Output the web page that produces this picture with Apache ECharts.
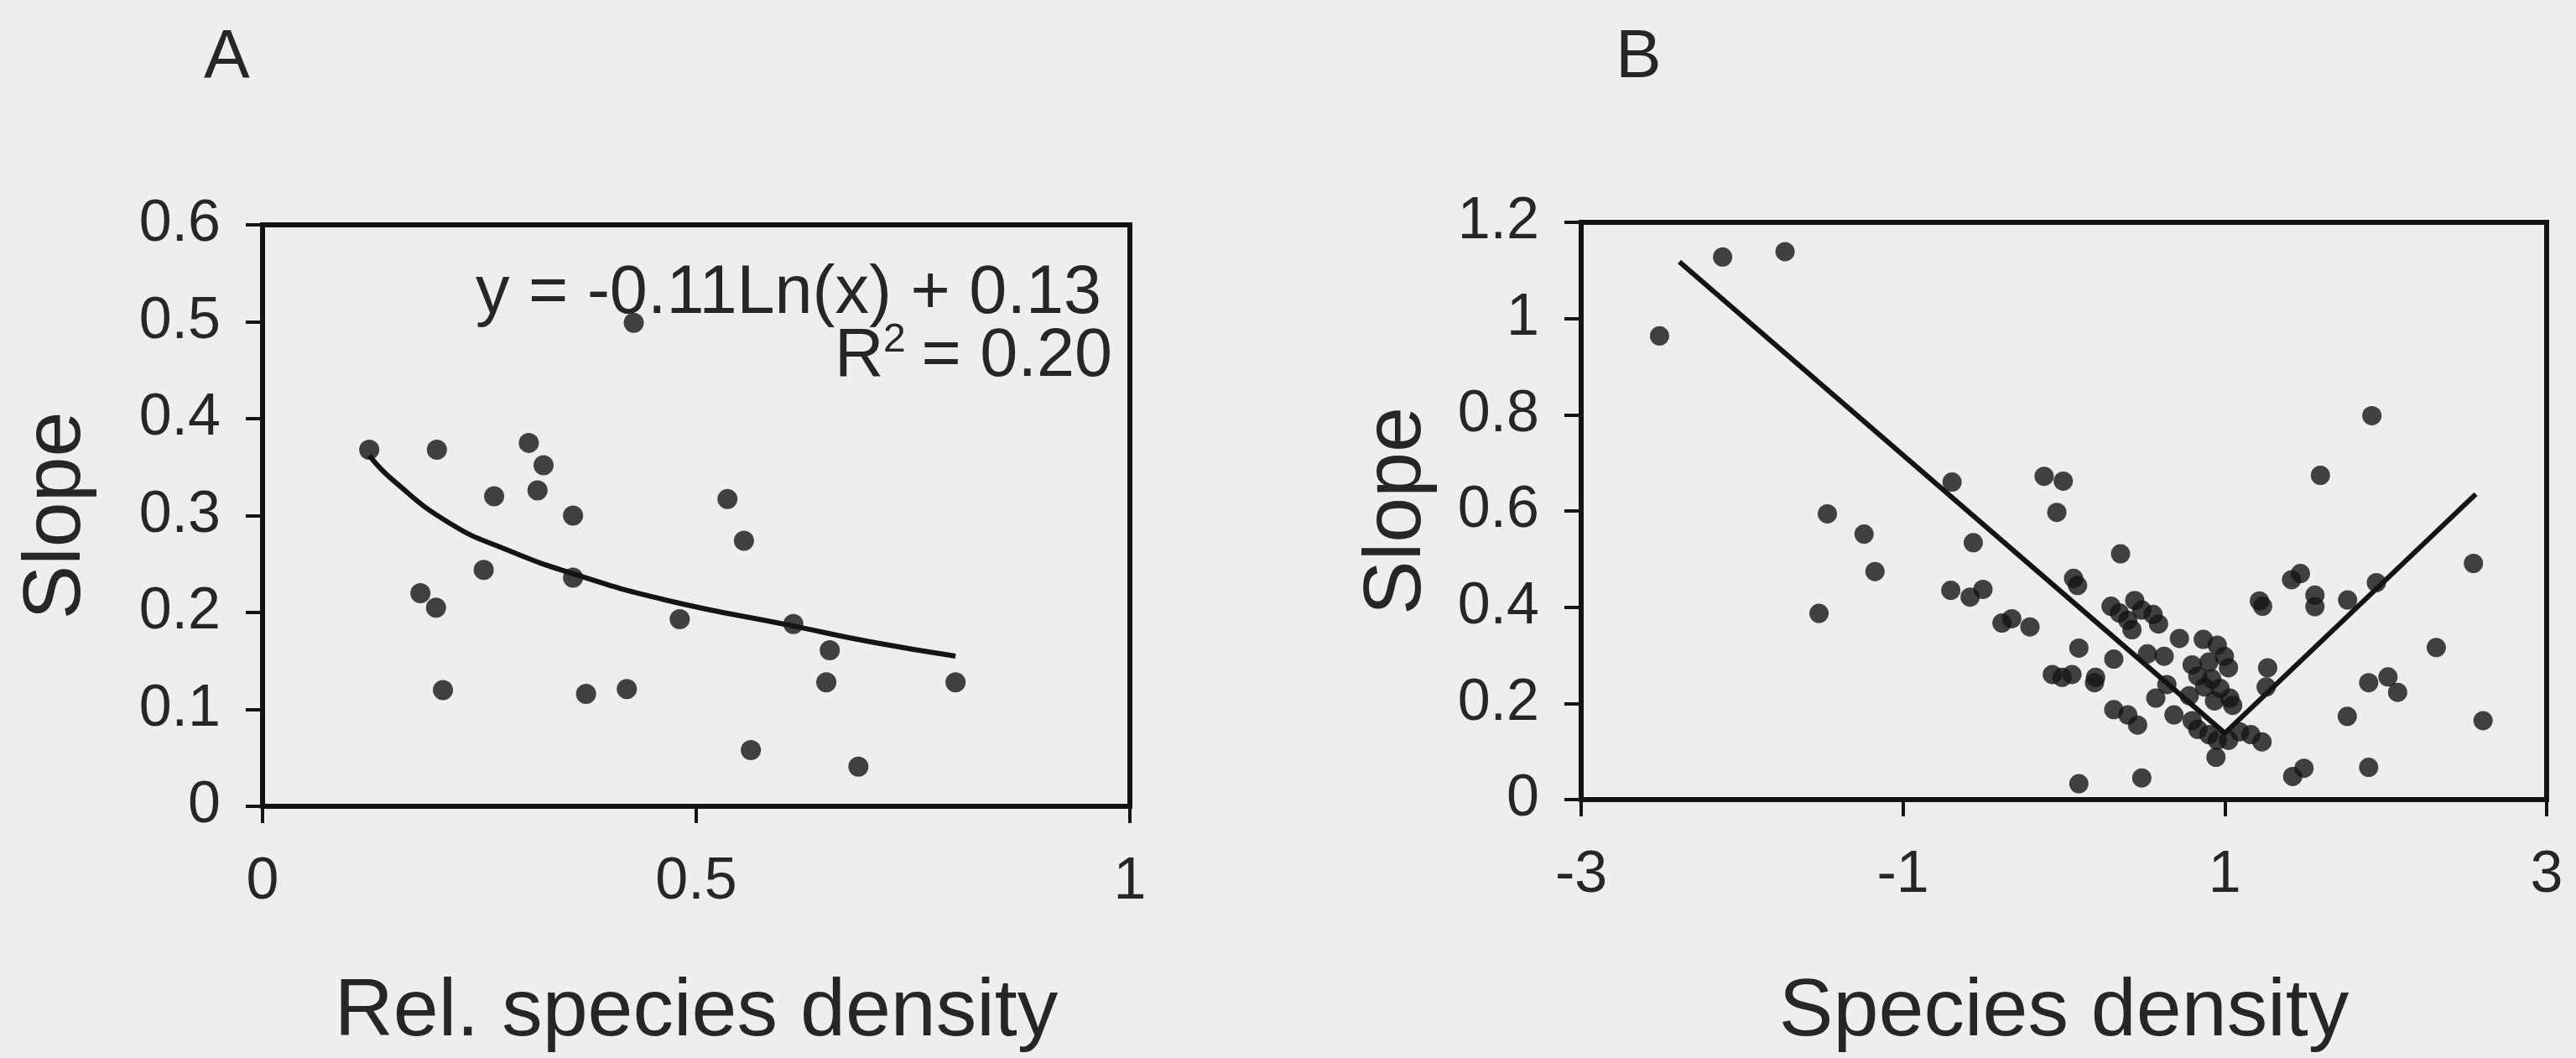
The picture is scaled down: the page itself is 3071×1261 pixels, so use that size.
<!DOCTYPE html>
<html>
<head>
<meta charset="utf-8">
<script src="https://cdn.jsdelivr.net/npm/echarts@6/dist/echarts.min.js"></script>
<style>
html,body{margin:0;padding:0;background:#eeeeec;}
#chart{width:3071px;height:1261px;}
</style>
</head>
<body>
<div id="chart"></div>
<script>
// ---- Panel A data: Rel. species density vs Slope ----
const aPoints = [
  [0.123,0.368],[0.201,0.368],[0.307,0.375],[0.324,0.352],[0.317,0.326],
  [0.267,0.320],[0.358,0.300],[0.536,0.317],[0.555,0.274],[0.255,0.244],
  [0.358,0.236],[0.182,0.220],[0.200,0.205],[0.481,0.193],[0.612,0.188],
  [0.654,0.161],[0.650,0.128],[0.799,0.128],[0.208,0.120],[0.373,0.116],
  [0.420,0.121],[0.563,0.058],[0.687,0.041],[0.428,0.499]
];
// trend curve (y = -0.11Ln(x) + 0.13)
const aTrend = [
  [0.123,0.362],[0.151,0.336],[0.216,0.292],[0.281,0.265],[0.358,0.240],
  [0.464,0.213],[0.612,0.186],[0.705,0.169],[0.799,0.155]
];
const aXRange = {min:0, max:1, interval:0.5};
const aYRange = {min:0, max:0.6, interval:0.1};
const aEquation = 'y = -0.11Ln(x) + 0.13';
const aR2 = ' = 0.20';

// ---- Panel B data: Species density vs Slope ----
const bPoints = [
  [-2.121,1.128],[-1.733,1.139],[-2.513,0.964],[1.914,0.798],[-0.695,0.660],
  [-0.123,0.672],[-0.004,0.662],[1.594,0.674],[-0.044,0.597],[-1.470,0.594],
  [-1.242,0.552],[-0.563,0.534],[-1.174,0.474],[0.352,0.511],[2.545,0.491],
  [-1.522,0.387],[0.060,0.460],[0.085,0.445],[1.415,0.457],[1.470,0.470],
  [1.942,0.451],[-0.703,0.435],[-0.583,0.421],[-0.503,0.437],[1.215,0.413],
  [1.235,0.402],[1.560,0.425],[1.560,0.401],[1.763,0.415],[-0.385,0.367],
  [-0.324,0.376],[-0.211,0.359],
  [0.293,0.402],[0.345,0.388],[0.397,0.373],[0.440,0.414],[0.484,0.394],
  [0.554,0.385],[0.588,0.365],[0.423,0.353],
  [0.093,0.315],[-0.072,0.260],[-0.011,0.254],[0.050,0.260],[0.197,0.254],
  [0.190,0.243],[0.310,0.292],[0.519,0.303],[0.623,0.298],[0.718,0.335],
  [0.866,0.333],[0.953,0.321],[0.997,0.298],[0.797,0.280],[0.901,0.286],
  [1.023,0.274],[0.832,0.257],[0.919,0.251],[0.875,0.234],[0.971,0.231],
  [1.031,0.211],[0.779,0.216],[0.936,0.205],[1.049,0.196],[0.640,0.239],
  [0.571,0.211],[1.266,0.274],[1.257,0.234],
  [0.310,0.187],[0.397,0.176],[0.458,0.155],[0.684,0.176],
  [0.797,0.164],[0.832,0.146],[0.901,0.135],[0.953,0.123],[0.945,0.088],
  [1.023,0.123],[1.092,0.141],[1.162,0.135],[1.231,0.120],
  [2.314,0.316],[1.894,0.243],[2.014,0.255],[2.074,0.223],[1.761,0.173],
  [2.605,0.164],[1.422,0.048],[1.492,0.065],[1.894,0.067],[0.093,0.033],
  [0.484,0.045]
];
const bTrend = [[-2.39,1.118],[1.0,0.138],[2.56,0.635]];
const bXRange = {min:-3, max:3, interval:2};
const bYRange = {min:0, max:1.2, interval:0.2};

const INK = '#141414';
const TXT = '#262626';
const FONT = '"Liberation Sans", Arial, sans-serif';

function xAxisCfg(grid, r, name, gap){
  return {
    type:'value', gridIndex:grid, min:r.min, max:r.max, interval:r.interval,
    name:name, nameLocation:'middle', nameGap:gap,
    nameTextStyle:{fontSize:97, color:TXT, fontFamily:FONT},
    axisLine:{show:true, onZero:false, lineStyle:{color:INK, width:6}},
    axisTick:{show:true, inside:false, length:20, lineStyle:{color:INK, width:4}},
    axisLabel:{fontSize:70, color:TXT, fontFamily:FONT, margin:56, showMinLabel:true, showMaxLabel:true},
    splitLine:{show:false}
  };
}
function yAxisCfg(grid, r, name, gap){
  return {
    type:'value', gridIndex:grid, min:r.min, max:r.max, interval:r.interval,
    name:name, nameLocation:'middle', nameGap:gap,
    nameTextStyle:{fontSize:97, color:TXT, fontFamily:FONT},
    axisLine:{show:true, onZero:false, lineStyle:{color:INK, width:6}},
    axisTick:{show:true, inside:false, length:20, lineStyle:{color:INK, width:4}},
    axisLabel:{fontSize:70, color:TXT, fontFamily:FONT, margin:50, showMinLabel:true, showMaxLabel:true},
    splitLine:{show:false}
  };
}

const chart = echarts.init(document.getElementById('chart'), null, {renderer:'canvas'});
chart.setOption({
  backgroundColor:'#eeeeec',
  animation:false,
  grid:[
    {left:313, top:268, width:1034, height:695, show:true, borderColor:INK, borderWidth:6, containLabel:false},
    {left:1885, top:265, width:1151, height:689, show:true, borderColor:INK, borderWidth:6, containLabel:false}
  ],
  xAxis:[
    xAxisCfg(0, aXRange, 'Rel. species density', 198),
    xAxisCfg(1, bXRange, 'Species density', 206)
  ],
  yAxis:[
    yAxisCfg(0, aYRange, 'Slope', 196),
    yAxisCfg(1, bYRange, 'Slope', 170)
  ],
  series:[
    {type:'line', xAxisIndex:0, yAxisIndex:0, data:aTrend, smooth:true, showSymbol:false, symbol:'none',
     lineStyle:{color:INK, width:6}, z:2},
    {type:'scatter', xAxisIndex:0, yAxisIndex:0, data:aPoints, symbol:'circle', symbolSize:24,
     itemStyle:{color:INK}, z:3},
    {type:'line', xAxisIndex:1, yAxisIndex:1, data:bTrend, smooth:false, showSymbol:false, symbol:'none',
     lineStyle:{color:INK, width:6}, z:2},
    {type:'scatter', xAxisIndex:1, yAxisIndex:1, data:bPoints, symbol:'circle', symbolSize:23,
     itemStyle:{color:INK}, z:3}
  ],
  graphic:[
    {type:'text', left:243, top:28, style:{text:'A', fontSize:82, fill:TXT, fontFamily:FONT}},
    {type:'text', left:1926, top:28, style:{text:'B', fontSize:82, fill:TXT, fontFamily:FONT}},
    {type:'text', x:1313, y:351, style:{text:aEquation, fontSize:81, fill:TXT, fontFamily:FONT, align:'right', verticalAlign:'middle'}, z:10},
    {type:'text', x:995, y:426, style:{text:'R', fontSize:81, fill:TXT, fontFamily:FONT, align:'left', verticalAlign:'middle'}, z:10},
    {type:'text', x:1053, y:406, style:{text:'2', fontSize:48, fill:TXT, fontFamily:FONT, align:'left', verticalAlign:'middle'}, z:10},
    {type:'text', x:1326, y:426, style:{text:aR2, fontSize:81, fill:TXT, fontFamily:FONT, align:'right', verticalAlign:'middle'}, z:10}
  ]
});
</script>
</body>
</html>
